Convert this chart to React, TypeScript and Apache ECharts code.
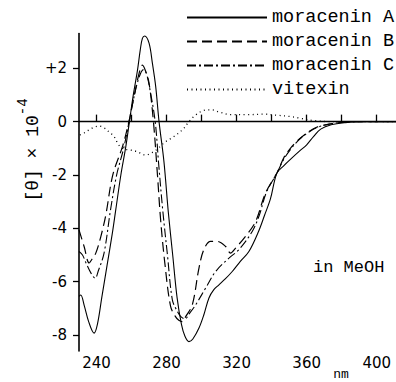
import React, { useEffect, useRef } from "react";
import * as echarts from "echarts";

// ---- data (wavelength in nm, [θ] × 10^-4) ----
const seriesNames = ["moracenin A", "moracenin B", "moracenin C", "vitexin"];

const wlA = [230, 231, 233, 235.5, 238.6, 240.5, 243, 246, 249, 251, 253.9, 256.7, 258.8, 261, 263.4, 265, 266.2, 267.5, 270, 271.9, 273.8, 275.7, 278.5, 281, 283.5, 286, 288.5, 290.5, 292.8, 295, 298.5, 301.3, 304.2, 307, 309.9, 313.5, 317.5, 322, 327, 332.5, 336, 339.3, 343, 347, 351, 356, 360, 364, 368, 374, 382, 392, 405, 411];
const valA = [-6.55, -6.5, -6.9, -7.5, -7.93, -7.6, -6.6, -5.4, -4.2, -3.3, -2.0, -0.95, 0, 1.0, 1.93, 2.7, 3.12, 3.21, 2.94, 2.19, 1.31, 0, -1.5, -3.4, -5.0, -6.6, -7.6, -8.05, -8.25, -8.15, -7.74, -7.24, -6.61, -6.3, -6.12, -5.9, -5.62, -5.25, -4.87, -4.12, -3.5, -2.9, -1.93, -1.65, -1.4, -1.1, -0.87, -0.55, -0.28, -0.12, -0.04, 0, 0, 0];

const wlB = [230, 233, 235.8, 237.5, 239.6, 242.5, 245.3, 249.3, 255, 258.5, 261, 264.3, 266.2, 268, 270, 272.5, 274.8, 276.6, 279, 282.3, 285, 287, 289, 291, 294.7, 298.5, 301.3, 305.1, 308.9, 313.7, 316.5, 319.4, 325.1, 330.8, 336.5, 343, 347, 350.7, 355, 360, 366, 374, 382, 392, 411];
const valB = [-4.06, -4.7, -5.3, -5.15, -4.93, -4.3, -3.5, -2.0, -0.9, 0, 0.8, 1.81, 2.12, 1.9, 1.44, 0, -2.0, -3.68, -5.3, -6.93, -7.3, -7.45, -7.5, -7.3, -6.87, -5.49, -4.8, -4.49, -4.49, -4.68, -4.93, -4.74, -4.3, -3.75, -2.68, -1.93, -1.35, -1.0, -0.7, -0.43, -0.2, -0.08, -0.02, 0, 0];

const wlC = [230, 232, 234, 237, 239.2, 241, 244.3, 248, 251.5, 255.5, 258.6, 261, 264, 266.8, 268.5, 270.5, 273.5, 275.5, 277.8, 280.5, 283.3, 286, 288, 290.5, 293, 296.6, 302.3, 308, 315.6, 321.3, 328.9, 333, 337, 343, 347, 350.7, 355, 360, 366, 374, 382, 392, 411];
const valC = [-4.87, -5.0, -5.3, -5.7, -5.87, -5.6, -4.93, -3.31, -2.0, -1.0, 0, 0.8, 1.6, 1.95, 1.8, 1.2, 0, -1.6, -3.31, -5.0, -6.68, -7.1, -7.3, -7.4, -7.2, -6.87, -6.24, -5.62, -5.12, -4.8, -4.12, -3.5, -2.65, -1.93, -1.4, -1.05, -0.72, -0.45, -0.22, -0.08, -0.02, 0, 0];

const wlV = [230.5, 233, 236, 239, 241.5, 244, 247, 250, 252, 254, 256.5, 259, 263, 268, 272.8, 276, 279.5, 284.2, 289, 292.8, 295.6, 299.4, 303, 306, 310, 316.5, 326, 335.5, 343, 350.7, 356, 364, 373.5, 382];
const valV = [-0.5, -0.42, -0.3, -0.2, -0.17, -0.22, -0.38, -0.56, -0.8, -0.97, -1.04, -1.06, -1.12, -1.25, -1.12, -0.95, -0.75, -0.56, -0.31, 0, 0.19, 0.37, 0.44, 0.44, 0.36, 0.26, 0.26, 0.28, 0.24, 0.19, 0.13, 0.04, 0, 0];

const xTicks = [240, 260, 280, 300, 320, 340, 360, 380, 400];
const xLabels = [240, 280, 320, 360, 400];
const yTicks = [-8, -6, -4, -2, 0, 2];

const zip = (w: number[], v: number[]) => w.map((x, i) => [x, v[i]]);

const MONO = "'Liberation Mono', 'DejaVu Sans Mono', monospace";
const SANS = "'DejaVu Sans', sans-serif";

export default function App() {
  const ref = useRef<HTMLDivElement>(null);
  useEffect(() => {
    const chart = echarts.init(ref.current!, null, { renderer: "svg" });
    const base = {
      type: "line",
      symbol: "none",
      showSymbol: false,
      smooth: 0.35,
      silent: true,
      itemStyle: { color: "#000", opacity: 0 },
    };
    chart.setOption({
      animation: false,
      backgroundColor: "#fff",
      grid: { left: 79, right: 0, top: 33.6, bottom: 31 },
      legend: {
        orient: "vertical",
        left: 186,
        top: 8,
        padding: 0,
        itemWidth: 80,
        itemHeight: 14,
        itemGap: 5,
        selectedMode: false,
        itemStyle: { opacity: 0 },
        textStyle: { fontFamily: MONO, fontSize: 18.5, color: "#000" },
        data: seriesNames,
      },
      xAxis: {
        type: "value",
        min: 230,
        max: 411,
        axisLine: { show: false },
        splitLine: { show: false },
        axisTick: {
          show: true,
          inside: true,
          length: 7,
          customValues: xTicks,
          lineStyle: { color: "#000", width: 1.3 },
        },
        axisLabel: {
          customValues: xLabels,
          margin: 4,
          fontFamily: SANS,
          fontSize: 15,
          color: "#000",
        },
      },
      yAxis: {
        type: "value",
        min: -8.6,
        max: 3.3,
        axisLine: { show: true, lineStyle: { color: "#000", width: 1.6 } },
        splitLine: { show: false },
        axisTick: {
          show: true,
          inside: false,
          length: 6,
          customValues: yTicks,
          lineStyle: { color: "#000", width: 1.3 },
        },
        axisLabel: {
          customValues: yTicks,
          margin: 12,
          fontFamily: SANS,
          fontSize: 15,
          color: "#000",
          formatter: (v: number) => (v > 0 ? "+" + v : v < 0 ? "-" + Math.abs(v) : "0"),
        },
      },
      series: [
        {
          ...base,
          name: seriesNames[0],
          data: zip(wlA, valA),
          lineStyle: { color: "#000", width: 1.1, type: "solid" },
          markLine: {
            silent: true,
            symbol: ["none", "none"],
            label: { show: false },
            lineStyle: { color: "#000", width: 1.4, type: "solid" },
            data: [{ yAxis: 0 }],
          },
        },
        {
          ...base,
          name: seriesNames[1],
          data: zip(wlB, valB),
          lineStyle: { color: "#000", width: 1.2, type: [10, 5] },
        },
        {
          ...base,
          name: seriesNames[2],
          data: zip(wlC, valC),
          lineStyle: { color: "#000", width: 1.1, type: [9, 3, 2, 3] },
        },
        {
          ...base,
          name: seriesNames[3],
          data: zip(wlV, valV),
          lineStyle: { color: "#000", width: 1.3, type: [1, 3.5] },
        },
      ],
      graphic: [
        {
          type: "text",
          x: 29,
          y: 150,
          rotation: Math.PI / 2,
          style: {
            text: "{a|[θ] × 10}{b|-4}",
            align: "center",
            verticalAlign: "middle",
            fill: "#000",
            rich: {
              a: { fontFamily: MONO, fontSize: 18, fill: "#000", lineHeight: 26, verticalAlign: "bottom" },
              b: { fontFamily: MONO, fontSize: 14, fill: "#000", lineHeight: 26, verticalAlign: "top" },
            },
          },
        },
        {
          type: "text",
          x: 313,
          y: 267,
          style: {
            text: "in MeOH",
            fontFamily: MONO,
            fontSize: 17,
            fill: "#000",
            align: "left",
            verticalAlign: "middle",
          },
        },
        {
          type: "text",
          x: 341,
          y: 374,
          style: {
            text: "nm",
            fontFamily: MONO,
            fontSize: 13,
            fill: "#000",
            align: "center",
            verticalAlign: "middle",
          },
        },
      ],
    });
    return () => chart.dispose();
  }, []);
  return (
    <div
      ref={ref}
      style={{ position: "fixed", left: 0, top: 0, width: 396, height: 382, background: "#fff" }}
    />
  );
}
